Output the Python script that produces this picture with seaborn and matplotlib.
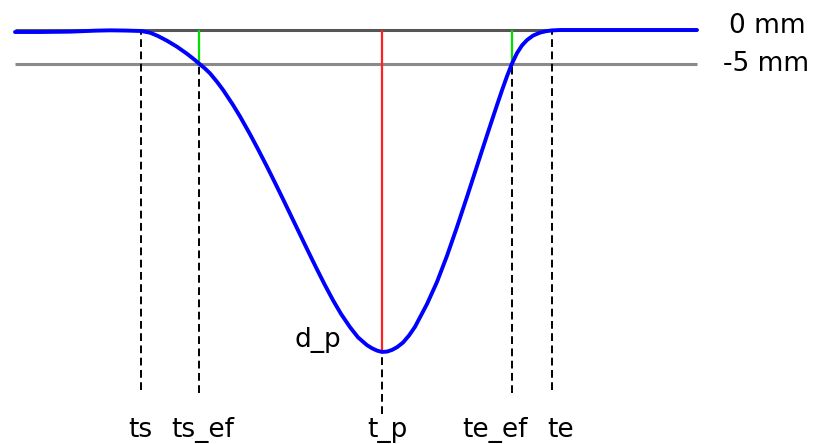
import numpy as np
import pandas as pd
import matplotlib
matplotlib.use("Agg")
import matplotlib.pyplot as plt
import seaborn as sns

# ---- data (time in arbitrary units, depth in mm) ----
time = [15, 40, 70, 95, 110, 125, 141, 150, 158, 167, 177, 187, 193, 199, 205, 210, 217,
        223, 233, 240, 250, 258, 267, 275, 283, 291, 300, 308, 317, 325, 333, 341, 350,
        358, 367, 372, 377, 382, 387, 392, 397, 403, 409, 415, 427, 437, 447, 457, 467,
        475, 483, 490, 497, 502, 507, 512, 517, 522, 527, 533, 540, 546, 552, 560, 575,
        620, 697]
depth = [-0.3, -0.3, -0.25, -0.1, -0.05, -0.08, -0.15, -0.4, -0.9, -1.6, -2.5, -3.55,
         -4.25, -5.0, -5.75, -6.47, -7.73, -8.93, -11.18, -12.9, -15.55, -17.79, -20.4,
         -22.8, -25.24, -27.72, -30.51, -32.99, -35.73, -38.09, -40.33, -42.37, -44.35,
         -45.87, -47.04, -47.5, -47.85, -48.05, -48.0, -47.75, -47.35, -46.65, -45.6,
         -44.3, -40.9, -37.6, -33.7, -29.4, -24.9, -21.22, -17.54, -14.35, -11.2, -9.0,
         -6.9, -5.0, -3.45, -2.3, -1.5, -0.84, -0.39, -0.18, -0.06, 0.0, 0.0, 0.0, 0.0]

event_names = ["ts", "ts_ef", "t_p", "te_ef", "te"]
event_times = [141, 199, 382, 512, 552]
event_depths = [-0.15, -5.0, -48.05, -5.0, 0.0]
label_times = [140, 203, 387, 495, 561]

ref_levels = [0, -5]
ref_labels = ["0 mm", "-5 mm"]
peak_depth = -48.05
peak_label = "d_p"

df = pd.DataFrame({"time": time, "depth": depth})

sns.set_theme(style="white")
plt.rcParams["font.family"] = ["DejaVu Sans"]

fig = plt.figure(figsize=(8.16, 4.44), dpi=100)
ax = fig.add_axes([0, 0, 1, 1])

t0, t1 = time[0], time[-1]
# reference lines
ax.hlines(ref_levels[0], t0, t1, color="#555555", lw=2.2, zorder=1)
ax.hlines(ref_levels[1], t0, t1, color="#8a8a8a", lw=2.2, zorder=1)

# green segments
for t in (event_times[1], event_times[3]):
    ax.vlines(t, ref_levels[1], ref_levels[0], color="#00e000", lw=1.6, zorder=2)

# red peak line
ax.vlines(event_times[2], peak_depth, ref_levels[0], color="#ff2020", lw=1.6, zorder=2)

# dashed event lines
dash = (0, (4, 2.3))
bottoms = [-53.7, -54.2, -57.3, -54.2, -53.7]
for t, top, b in zip(event_times, event_depths, bottoms):
    ax.vlines(t, b, top, color="black", lw=1.4, linestyles=[dash], zorder=1)

# curve
sns.lineplot(data=df, x="time", y="depth", ax=ax, color="#0000ff", lw=2.8,
             sort=False, estimator=None, zorder=3)
ax.lines[-1].set_solid_joinstyle("round")
ax.lines[-1].set_solid_capstyle("round")
ax.set_xlim(0, 816)
ax.set_ylim(-414 / 6.7, 30 / 6.7)
ax.axis("off")

# labels
fs = 19
for name, lt in zip(event_names, label_times):
    ax.text(lt, -60.7, name, ha="center", va="baseline", fontsize=fs, color="black")
ax.text(318, -47.3, peak_label, ha="center", va="baseline", fontsize=fs, color="black")
ax.text(729, 0.6, ref_labels[0], ha="left", va="center", fontsize=fs, color="black")
ax.text(723, -5.1, ref_labels[1], ha="left", va="center", fontsize=fs, color="black")

fig.savefig("out.png", dpi=100)
